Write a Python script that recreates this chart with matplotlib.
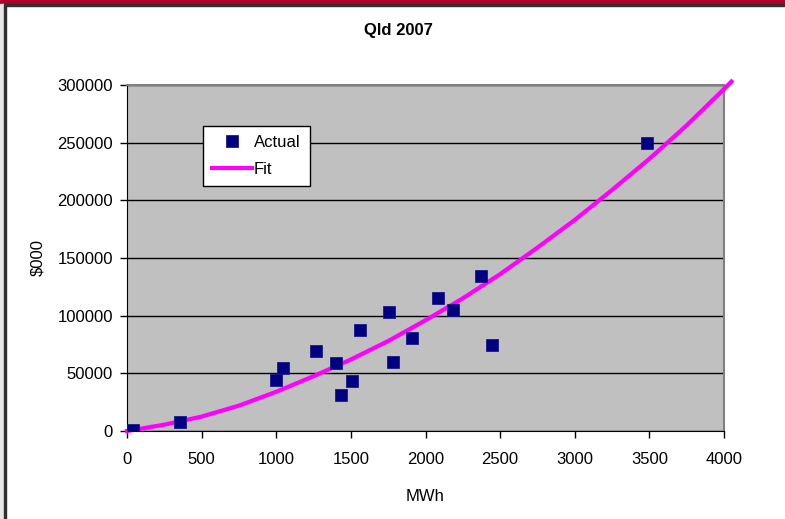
import matplotlib
matplotlib.use("Agg")
import numpy as np
from matplotlib import pyplot as plt
from matplotlib.patches import Rectangle

plt.rcParams['font.family'] = ['Liberation Sans', 'DejaVu Sans']

# actual points (MWh, $000)
actual_mwh = [40, 355, 998, 1045, 1265, 1400, 1434, 1508, 1561, 1755, 1782, 1910, 2084, 2184, 2370, 2443, 3484]
actual_cost = [1000, 7500, 44000, 55000, 69000, 59000, 31000, 43000, 88000, 103500, 60000, 81000, 115500, 105000, 134500, 75000, 250000]

# fitted curve
fit_mwh = [0, 250, 500, 750, 1000, 1250, 1500, 1750, 2000, 2250, 2500, 2750, 3000, 3250, 3500, 3750, 4000, 4050]
fit_cost = [0, 5500, 12500, 22000, 34000, 47500, 62000, 78000, 96000, 115000, 136000, 159000, 183000, 209000, 236000, 265000, 296500, 303000]

fig = plt.figure(figsize=(7.85, 5.19), dpi=100)

# frame bits of the original screenshot
fig.patches.append(Rectangle((0, 1 - 4/519), 1, 4/519, transform=fig.transFigure,
                             color='#b0002a', zorder=0))
fig.patches.append(Rectangle((0, 1 - 6/519), 1, 2/519, transform=fig.transFigure,
                             color='#303030', zorder=0))
fig.patches.append(Rectangle((0, 0), 4/785, 1 - 4/519, transform=fig.transFigure,
                             color='#e8e8e8', zorder=0))
fig.patches.append(Rectangle((4/785, 0), 2/785, 1 - 4/519, transform=fig.transFigure,
                             color='#303030', zorder=0))

ax = fig.add_axes([127/785, 88/519, 597/785, 346/519])
ax.set_facecolor('#c0c0c0')

ax.plot(fit_mwh, fit_cost, color='#ff00ff', lw=3, label='Fit', clip_on=False, zorder=3)
ax.plot(actual_mwh, actual_cost, 's', color='#000080', ms=8.5, mec='#1a1a8c', mew=0.6,
        label='Actual', zorder=4)

ax.set_xlim(0, 4000)
ax.set_ylim(0, 300000)
ax.set_xticks(np.arange(0, 4001, 500))
ax.set_yticks(np.arange(0, 300001, 50000))
ax.yaxis.grid(True, color='black', lw=1)
ax.set_axisbelow(True)
ax.tick_params(labelsize=12, length=5, color='black', width=1)
ax.tick_params(axis='x', pad=10)
ax.tick_params(axis='y', pad=5)

for s in ['top', 'right']:
    ax.spines[s].set_color('#808080')
    ax.spines[s].set_linewidth(1.5)
for s in ['left', 'bottom']:
    ax.spines[s].set_color('black')

ax.set_xlabel('MWh', fontsize=12, labelpad=16)
ax.set_ylabel('$000', fontsize=12, labelpad=9)
fig.text(0.507, 1 - 30/519, 'Qld 2007', ha='center', va='center', fontsize=12, fontweight='bold')

handles, labels = ax.get_legend_handles_labels()
leg = ax.legend(handles[::-1], labels[::-1], loc='upper left',
                bbox_to_anchor=((203 - 127)/597, (431 - 126)/346),
                fontsize=12, fancybox=False, framealpha=1, edgecolor='black',
                borderpad=0.55, handlelength=2.4, handletextpad=0.1,
                labelspacing=0.72, borderaxespad=0)
leg.get_frame().set_linewidth(1)

plt.savefig('out.png', dpi=100)
